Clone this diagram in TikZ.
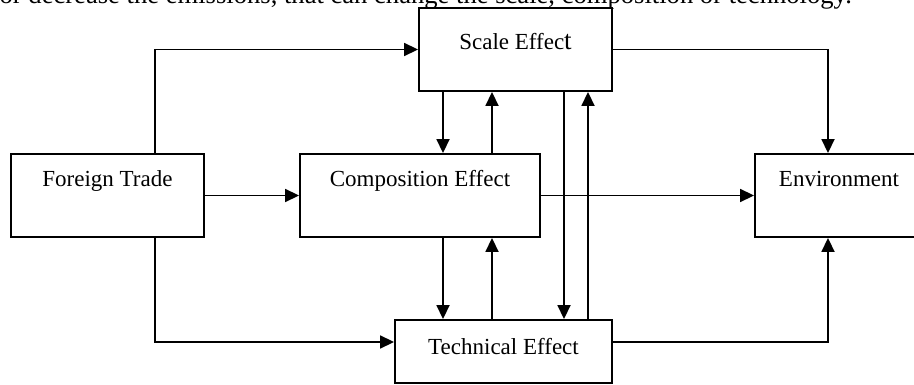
\documentclass[tikz,border=0pt]{standalone}
\usepackage{fontspec}
\setmainfont{Liberation Serif}
\usepackage{tikz}
\usetikzlibrary{calc}
\usetikzlibrary{arrows.meta}
\usetikzlibrary{positioning}

\begin{document}
\begin{tikzpicture}[x=1pt, y=-1pt,
  box/.style={rectangle, draw=black, line width=1.9pt, inner sep=0pt, font=\fontsize{23}{27}\selectfont},
  upper/.style={text height=33pt, text depth=50pt},
  link/.style={-{Triangle[length=14pt, width=13pt]}, line width=1.8pt, draw=black}]
 \clip (0, 0) rectangle (914, 385);
 \node [anchor=base east, inner sep=0pt, font=\fontsize{26.6}{30}\selectfont] (intro) at (852, 4) {or decrease the emissions, that can change the scale, composition or technology.};
 \node [box, upper, line width=2.8pt, minimum width=193pt] (trade) at (107.5, 195.5) {Foreign Trade};
 \node [box, minimum width=193pt, text height=42pt, text depth=41pt] (scale) at (515.5, 49.5) {Scale Effec{\fontsize{27}{27}\selectfont t}};
 \node [box, upper, minimum width=240pt] (comp) at (420, 195.5) {Composition Effect};
 \node [box, minimum width=217pt, text height=34pt, text depth=29pt] (tech) at (503.5, 351.5) {Technical Effect};
 \node [box, upper, minimum width=168pt] (env) at (839, 195.5) {Environment};
 % trade to the three effects
 \draw [link] (trade.north -| 155,0) |- (scale.west);
 \draw [link] (trade.south -| 155,0) |- (tech.west |- 0,342);
 \draw [link] (trade.east) to (comp.west);
 % effects to environment
 \draw [link] (scale.east) -| (env.north -| 828,0);
 \draw [link] (comp.east) to (env.west);
 \draw [link] (tech.east |- 0,342) -| (env.south -| 828,0);
 % links between the effects
 \draw [link] (scale.south -| 443,0) to (comp.north -| 443,0);
 \draw [link] (comp.north -| 492,0) to (scale.south -| 492,0);
 \draw [link] (comp.south -| 443,0) to (tech.north -| 443,0);
 \draw [link] (tech.north -| 492,0) to (comp.south -| 492,0);
 \draw [link] (scale.south -| 564,0) to (tech.north -| 564,0);
 \draw [link] (tech.north -| 588,0) to (scale.south -| 588,0);
\end{tikzpicture}
\end{document}
